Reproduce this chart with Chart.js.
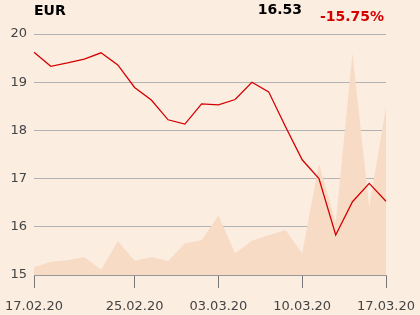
<!DOCTYPE html>
<html>
<head>
<meta charset="utf-8">
<script src="https://cdn.jsdelivr.net/npm/chart.js@4/dist/chart.umd.min.js"></script>
<style>
  html, body { margin: 0; padding: 0; background: #fcede1; }
  #wrap { position: relative; width: 420px; height: 315px; }
</style>
</head>
<body>
<div id="wrap"><canvas id="c" width="420" height="315"></canvas></div>
<script>
// trading days 17.02.20 - 17.03.20
const days = ['17.02.20', '18.02.20', '19.02.20', '20.02.20', '21.02.20',
              '24.02.20', '25.02.20', '26.02.20', '27.02.20', '28.02.20',
              '02.03.20', '03.03.20', '04.03.20', '05.03.20', '06.03.20',
              '09.03.20', '10.03.20', '11.03.20', '12.03.20', '13.03.20',
              '16.03.20', '17.03.20'];
const shownTicks = ['17.02.20', '25.02.20', '03.03.20', '10.03.20', '17.03.20'];
const price = [19.62, 19.33, 19.40, 19.48, 19.61, 19.36, 18.89, 18.63, 18.22, 18.13,
               18.55, 18.53, 18.64, 19.00, 18.80, 18.08, 17.39, 17.00, 15.83, 16.52,
               16.90, 16.53];
// relative volume, 0-100
const volume = [3.2, 5.5, 6.1, 7.5, 2.2, 14.1, 5.9, 7.5, 5.8, 13.2,
                14.4, 24.7, 9.0, 14.2, 16.5, 18.7, 9.0, 46.3, 21.6, 92.0,
                28.3, 69.7];
const lastPrice = '16.53';
const change = '-15.75%';

const FONT = "'DejaVu Sans', sans-serif";

const header = {
    id: 'header',
    afterDraw(chart) {
        const ctx = chart.ctx;
        ctx.save();
        ctx.font = 'bold 14px ' + FONT;
        ctx.textBaseline = 'alphabetic';
        ctx.fillStyle = '#000';
        ctx.textAlign = 'left';
        ctx.fillText('EUR', 34, 15);
        ctx.textAlign = 'right';
        ctx.fillText(lastPrice, 302, 14);
        ctx.fillStyle = '#d40000';
        ctx.textAlign = 'left';
        ctx.fillText(change, 320, 21);
        ctx.restore();
    }
};

new Chart(document.getElementById('c'), {
    type: 'line',
    data: {
        labels: days,
        datasets: [{
            data: price,
            yAxisID: 'y',
            borderColor: '#d40000',
            borderWidth: 1.3,
            pointRadius: 0,
            tension: 0,
            fill: false,
        }, {
            data: volume,
            yAxisID: 'v',
            backgroundColor: '#f8dbc5',
            borderWidth: 0,
            pointRadius: 0,
            tension: 0,
            fill: 'origin',
        }],
    },
    options: {
        responsive: false,
        animation: false,
        layout: { padding: { top: 34, right: 34, left: 0, bottom: 0 } },
        plugins: { legend: { display: false }, tooltip: { enabled: false } },
        scales: {
            x: {
                offset: false,
                afterBuildTicks: s => { s.ticks = s.ticks.filter(t => shownTicks.includes(days[t.value])); },
                afterFit: s => { s.height = 40; },
                grid: { drawOnChartArea: false, tickLength: 13, color: '#777' },
                border: { color: '#999' },
                ticks: {
                    autoSkip: false, maxRotation: 0, padding: 3,
                    color: '#444', font: { family: FONT, size: 13, lineHeight: 2.4 },
                    callback: function (v) { return this.getLabelForValue(v); },
                },
            },
            y: {
                min: 15, max: 20, z: 1,
                afterFit: s => { s.width = 34; },
                grid: { color: '#b3b3b3', drawTicks: false },
                border: { display: false },
                ticks: { stepSize: 1, padding: 7, color: '#444', font: { family: FONT, size: 13 } },
            },
            v: { display: false, min: 0, max: 100 },
        },
    },
    plugins: [header],
});
</script>
</body>
</html>
